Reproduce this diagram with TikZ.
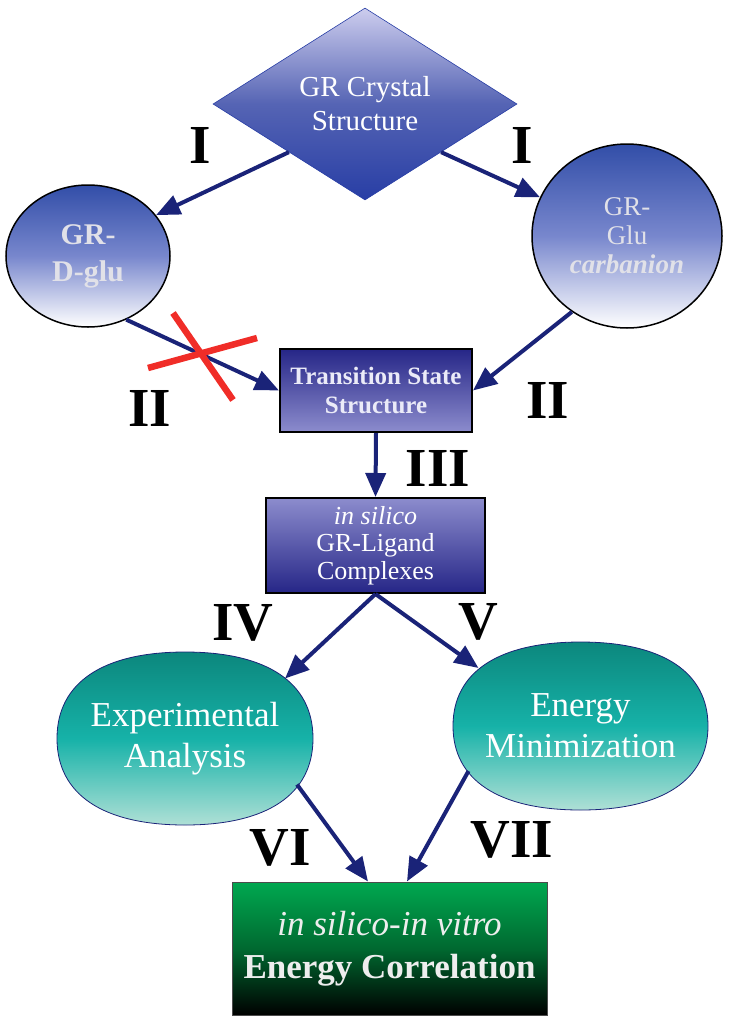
\documentclass[tikz,border=0pt]{standalone}
\usepackage{fontspec}
\setmainfont{Liberation Serif}
\usetikzlibrary{shapes.geometric,arrows.meta,calc}
\definecolor{navy}{RGB}{26,35,120}
\definecolor{dialight}{RGB}{205,205,238}
\definecolor{diamid}{RGB}{85,100,180}
\definecolor{diadark}{RGB}{40,62,165}
\definecolor{circdark}{RGB}{50,78,168}
\definecolor{circmid}{RGB}{120,135,205}
\definecolor{boxdark}{RGB}{38,38,135}
\definecolor{boxlight}{RGB}{140,140,205}
\definecolor{tealtop}{RGB}{12,135,125}
\definecolor{tealmid}{RGB}{22,178,168}
\definecolor{tealbot}{RGB}{175,224,214}
\definecolor{greentop}{RGB}{0,168,80}
\definecolor{greenmid}{RGB}{0,105,48}
\definecolor{xred}{RGB}{240,45,40}
\definecolor{paletext}{RGB}{225,225,232}
\begin{document}
\begin{tikzpicture}[x=1pt,y=-1pt,
  conn/.style={draw=navy,line width=4pt,-{Triangle[length=24pt,width=20pt]}},
  numlab/.style={font=\bfseries\fontsize{55}{55}\selectfont,text=black},
  dia/.style={diamond,aspect=1.58,minimum width=304pt,minimum height=192pt,inner sep=0pt,
    draw=diadark,line width=0.6pt,top color=dialight,bottom color=diadark,middle color=diamid,
    text=white,align=center,font=\fontsize{29}{34}\selectfont},
  circ/.style={ellipse,draw=black,line width=1.5pt,inner sep=0pt,
    top color=circdark,bottom color=white,middle color=circmid,align=center,text=paletext},
  tsbox/.style={rectangle,draw=black,line width=2pt,minimum width=192pt,minimum height=83pt,
    top color=boxdark,bottom color=boxlight,align=center,text={rgb,255:red,235;green,235;blue,248},
    font=\bfseries\fontsize{25}{29}\selectfont},
  ligbox/.style={rectangle,draw=black,line width=2pt,minimum width=219pt,minimum height=95pt,
    top color=boxlight,bottom color=boxdark,align=center,text=white,
    font=\fontsize{26}{27.5}\selectfont},
  blobshape/.style={draw=navy,line width=0.8pt,top color=tealtop,bottom color=tealbot,middle color=tealmid},
  blobtext/.style={rectangle,inner sep=0pt,minimum width=256pt,minimum height=170pt,
    align=center,text=white,font=\fontsize{35}{41}\selectfont},
  corbox/.style={rectangle,draw=black!70,line width=1pt,minimum width=315pt,minimum height=133pt,
    top color=greentop,bottom color=black,middle color=greenmid,align=center,
    text={rgb,255:red,238;green,238;blue,238},font=\fontsize{35}{43}\selectfont},
  xline/.style={draw=xred,line width=6.5pt}
]
\useasboundingbox (0,0) rectangle (732,1023);

% teal blob outlines (rounded ovals)
\begin{scope}[shift={(185,738.5)}]
\shade[blobshape] (0,-86.5) .. controls (82,-86.5) and (128,-56) .. (128,0)
  .. controls (128,56) and (82,86.5) .. (0,86.5)
  .. controls (-82,86.5) and (-128,56) .. (-128,0)
  .. controls (-128,-56) and (-82,-86.5) .. (0,-86.5) -- cycle;
\end{scope}
\begin{scope}[shift={(580.5,726)}]
\shade[blobshape] (0,-84) .. controls (82,-84) and (127.5,-54) .. (127.5,0)
  .. controls (127.5,54) and (82,84) .. (0,84)
  .. controls (-82,84) and (-127.5,54) .. (-127.5,0)
  .. controls (-127.5,-54) and (-82,-84) .. (0,-84) -- cycle;
\end{scope}

% nodes
\node[dia] (crys) at (365,104) {GR Crystal\\Structure};
\node[circ,minimum width=164pt,minimum height=142pt,font=\bfseries\fontsize{30}{33}\selectfont] (dglu) at (88,256) {\raisebox{4pt}{GR-}\\D-glu};
\node[circ,minimum width=190pt,minimum height=184pt,font=\fontsize{27}{29}\selectfont] (carb) at (627,236) {GR-\\Glu\\\textbf{\textit{carbanion}}};
\node[tsbox] (ts) at (376,390.5) {Transition State\\Structure};
\node[ligbox] (lig) at (375.5,545.5) {\textit{in silico}\\GR-Ligand\\Complexes};
\node[blobtext] (exp) at (185,738.5) {Experimental\\Analysis};
\node[blobtext] (emin) at (580.5,726) {Energy\\Minimization};
\node[corbox] (cor) at (389.5,948.5) {\textit{in silico-in vitro}\\\textbf{Energy Correlation}};

% connectors
\draw[conn] (crys.south west) -- (dglu.31);
\draw[conn] (crys.south east) -- (carb.156);
\draw[conn] (dglu.-59) -- (ts.west);
\draw[conn] (carb.-126) -- (ts.east);
\draw[conn] (ts.south) -- (lig.north);
\draw[conn] (lig.south) -- ($(exp.center)+(100,-60)$);
\draw[conn] (lig.south) -- ($(emin.center)+(-102,-58)$);
\draw[conn] ($(exp.center)+(112,46)$) -- ($(cor.north)+(-21.5,0)$);
\draw[conn] ($(emin.center)+(-112,45)$) -- ($(cor.north)+(17.5,0)$);

% red cross
\draw[xline] (148,368) -- (257,338);
\draw[xline] (173,313) -- (233,400);

% labels
\node[numlab] (l1a) at (200,145) {I};
\node[numlab] (l1b) at (522,145) {I};
\node[numlab] (l2a) at (150,408) {II};
\node[numlab] (l2b) at (548,400) {II};
\node[numlab] (l3) at (438,468) {III};
\node[numlab] (l4) at (243,623) {IV};
\node[numlab] (l5) at (478,622) {V};
\node[numlab] (l6) at (280,848) {VI};
\node[numlab] (l7) at (512,840) {VII};
\end{tikzpicture}
\end{document}
